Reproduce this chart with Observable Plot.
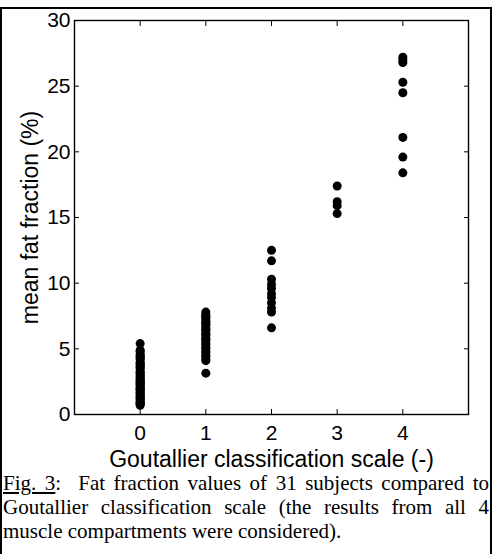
<!DOCTYPE html>
<html>
<head>
<meta charset="utf-8">
<script src="https://cdn.jsdelivr.net/npm/d3@7"></script>
<script src="https://cdn.jsdelivr.net/npm/@observablehq/plot@0.6"></script>
<style>
  html, body { margin: 0; padding: 0; background: #fff; }
  #box { position: absolute; left: 0; top: 7px; width: 492px; height: 560px; box-sizing: border-box;
         border-top: 2px solid #000; border-left: 2px solid #000; border-right: 2px solid #000; }
  #chart { position: absolute; left: 2px; top: 9px; }
  #caption { position: absolute; left: 3px; top: 471px; width: 486px;
             font-family: "Liberation Serif", "Times New Roman", serif; font-size: 21px; line-height: 24px;
             text-align: justify; color: #000; }
</style>
</head>
<body>
<div id="box"></div>
<div id="chart"></div>
<div id="caption"><u>Fig. 3</u>:&nbsp; Fat fraction values of 31 subjects compared to Goutallier classification scale (the results from all 4 muscle compartments were considered).</div>
<script>
// Goutallier grades
const grades = [0, 1, 2, 3, 4];
// Mean fat fraction (%), per grade
const grade0 = [5.4, 4.9, 4.8, 4.6, 4.5, 4.4, 4.3, 4.2, 4.0, 3.9, 3.8, 3.7, 3.6, 3.5, 3.3, 3.2, 3.1, 3.0, 2.9, 2.8,
                2.7, 2.6, 2.5, 2.45, 2.4, 2.3, 2.2, 2.1, 2.0, 1.95, 1.9, 1.8, 1.7, 1.6, 1.5, 1.4, 1.3, 1.25, 1.2, 1.1,
                1.0, 0.9, 0.85, 0.8, 0.7];
const grade1 = [3.15, 4.1, 4.2, 4.4, 4.5, 4.7, 4.8, 5.0, 5.1, 5.3, 5.4, 5.6, 5.7, 5.8, 6.0, 6.1, 6.2, 6.4, 6.5, 6.6,
                6.8, 6.9, 7.0, 7.1, 7.3, 7.4, 7.5, 7.6, 7.8];
const grade2 = [12.5, 11.7, 10.3, 9.9, 9.6, 9.2, 8.9, 8.5, 8.1, 7.8, 6.6];
const grade3 = [17.4, 16.2, 15.9, 15.3];
const grade4 = [27.2, 27.0, 26.8, 25.3, 24.5, 21.1, 19.6, 18.4];
const yTicks = [0, 5, 10, 15, 20, 25, 30];

const groups = [grade0, grade1, grade2, grade3, grade4];
const data = groups.flatMap((vals, i) => vals.map(v => ({grade: grades[i], ff: v})));

const font = "Liberation Sans, Arial, Helvetica, sans-serif";
const chart = Plot.plot({
  width: 488,
  height: 468,
  marginLeft: 72,
  marginRight: 22,
  marginTop: 11,
  marginBottom: 63,
  style: {fontFamily: font, fontSize: "21px", color: "#000", background: "transparent", overflow: "visible"},
  x: {domain: [-1, 5], ticks: grades},
  y: {domain: [0, 30], ticks: yTicks},
  marks: [
    Plot.axisX({anchor: "bottom", ticks: grades, tickFormat: d3.format("d"), tickSize: -5, tickPadding: 16, label: null, fontSize: 21}),
    Plot.axisX({anchor: "top", ticks: grades, tickSize: -5, tickFormat: () => "", label: null}),
    Plot.axisY({anchor: "left", ticks: yTicks, tickFormat: d3.format("d"), tickSize: -5, tickPadding: 9, label: null, fontSize: 21}),
    Plot.axisY({anchor: "right", ticks: yTicks, tickSize: -5, tickFormat: () => "", label: null}),
    Plot.frame({stroke: "#000", strokeWidth: 1.4}),
    Plot.dot(data, {x: "grade", y: "ff", r: 4.5, fill: "#000", stroke: null}),
    Plot.text(["mean fat fraction (%)"], {frameAnchor: "left", dx: -44, rotate: -90, textAnchor: "middle", lineAnchor: "middle", fontSize: 23, fill: "#000"}),
    Plot.text(["Goutallier classification scale (-)"], {frameAnchor: "bottom", dy: 45, textAnchor: "middle", lineAnchor: "middle", fontSize: 23, fill: "#000"})
  ]
});
document.getElementById("chart").appendChild(chart);
</script>
</body>
</html>
